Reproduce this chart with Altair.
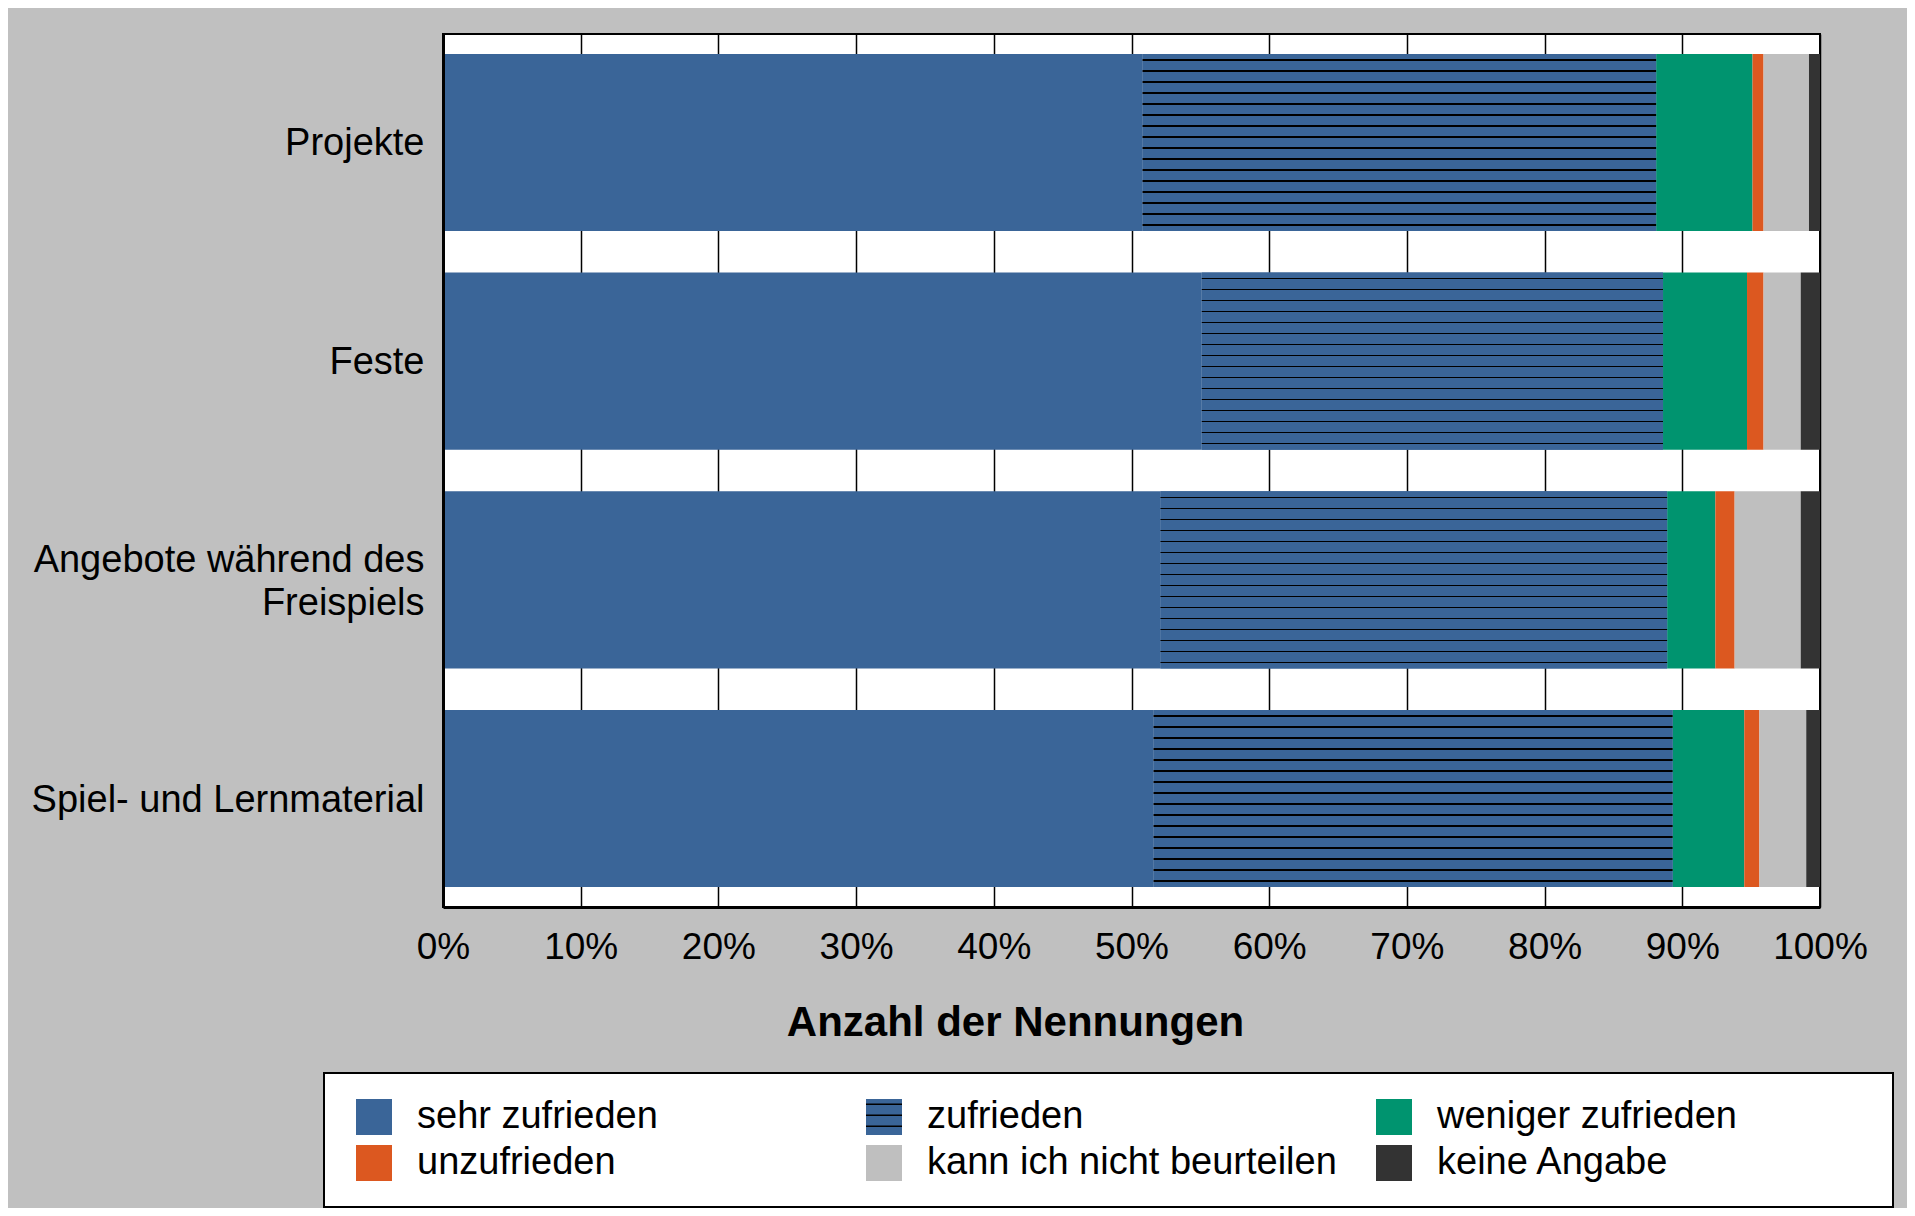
import altair as alt
import pandas as pd

# ---------------- data ----------------
items = [
    "Projekte",
    "Feste",
    "Angebote während des Freispiels",
    "Spiel- und Lernmaterial",
]
categories = [
    "sehr zufrieden",
    "zufrieden",
    "weniger zufrieden",
    "unzufrieden",
    "kann ich nicht beurteilen",
    "keine Angabe",
]
sehr_zufrieden = [50.8, 55.1, 52.1, 51.6]
zufrieden = [37.3, 33.5, 36.8, 37.7]
weniger_zufrieden = [7.0, 6.1, 3.5, 5.2]
unzufrieden = [0.8, 1.2, 1.4, 1.1]
kann_nicht = [3.3, 2.7, 4.8, 3.4]
keine_angabe = [0.8, 1.4, 1.4, 1.0]
x_ticks = [0, 10, 20, 30, 40, 50, 60, 70, 80, 90, 100]

# ---------------- styles ----------------
BLUE = "#3A6598"
colors = [BLUE, BLUE, "#00946F", "#DC5820", "#BFBFBF", "#333333"]
FONT = "Liberation Sans"
TWO_LINE = "Angebote während des Freispiels"

series = [sehr_zufrieden, zufrieden, weniger_zufrieden, unzufrieden, kann_nicht, keine_angabe]
rows = []
for ci, (cat, vals) in enumerate(zip(categories, series)):
    for item, v in zip(items, vals):
        rows.append({"item": item, "category": cat, "key": cat + "#", "order": ci, "value": v})
df = pd.DataFrame(rows)


def stripes(height, first, step, n, half=0.7, base=BLUE, line="#000000"):
    stops = [{"offset": 0, "color": base}]
    for k in range(n):
        c = first + step * k
        a = (c - half) / height
        b = (c + half) / height
        stops += [
            {"offset": a, "color": base},
            {"offset": a, "color": line},
            {"offset": b, "color": line},
            {"offset": b, "color": base},
        ]
    stops.append({"offset": 1, "color": base})
    return {"gradient": "linear", "x1": 0, "y1": 0, "x2": 0, "y2": 1, "stops": stops}


bar_grad = stripes(177.0, 6.0, 11.0, 16)

# hatch overlay for the "zufrieden" legend symbol (3 horizontal lines in a [-1,1] box)
hatch_path = "M-1,-0.706H1M-1,-0.094H1M-1,0.517H1"
empty_path = "M0,0"
hatch_shapes = [hatch_path if c == "zufrieden" else empty_path for c in categories]

y_enc = alt.Y(
    "item:N",
    sort=items,
    scale=alt.Scale(paddingInner=0.19, paddingOuter=0.091),
    axis=alt.Axis(
        title=None,
        labelFontSize=38,
        labelFont=FONT,
        labelColor="black",
        labelPadding=19,
        labelLimit=700,
        labelLineHeight=43,
        labelOffset={"condition": {"test": f"datum.value == '{TWO_LINE}'", "value": -19}, "value": 2},
        ticks=False,
        domainColor="black",
        domainWidth=3,
        grid=False,
        zindex=1,
        labelExpr=f"datum.value == '{TWO_LINE}' ? ['Angebote während des', 'Freispiels'] : datum.label",
    ),
)

x_enc = alt.X(
    "x0:Q",
    scale=alt.Scale(domain=[0, 100], nice=False, zero=True),
    axis=alt.Axis(
        values=x_ticks,
        labelExpr="datum.value + '%'",
        labelFontSize=37,
        labelFont=FONT,
        labelColor="black",
        labelPadding=22,
        labelFlush=False,
        labelOverlap=False,
        ticks=False,
        domainColor="black",
        domainWidth=3,
        grid=True,
        gridColor="black",
        gridWidth=1.5,
        gridOpacity=1,
        title="Anzahl der Nennungen",
        titleFont=FONT,
        titleFontSize=42,
        titleFontWeight="bold",
        titleColor="black",
        titleX=572,
        titleY=128,
        titleAlign="center",
        titleBaseline="alphabetic",
    ),
)

legend_common = dict(
    orient="none",
    legendX=-119,
    legendY=1039,
    direction="horizontal",
    columns=3,
    gridAlign="all",
    symbolSize=1296,
    symbolOffset=6,
    symbolOpacity=1,
    labelFontSize=38,
    labelFont=FONT,
    labelOffset=24,
    labelLimit=700,
    columnPadding=32,
    rowPadding=8,
    padding=25,
    title=" ",
    titleOrient="right",
    titleFontSize=1,
    titlePadding=131,
    titleColor="white",
)

legend_main = alt.Legend(
    symbolType="square",
    symbolStrokeWidth=0,
    labelColor="black",
    fillColor="white",
    strokeColor="black",
    zindex=0,
    **legend_common,
)

legend_hatch = alt.Legend(
    symbolStrokeColor="black",
    symbolFillColor="transparent",
    symbolStrokeWidth=1.4,
    labelColor="black",
    labelOpacity=0,
    labelExpr="replace(datum.label, '#', '')",
    fillColor="transparent",
    strokeColor="transparent",
    zindex=2,
    **legend_common,
)

base = alt.Chart(df).transform_stack(
    stack="value",
    groupby=["item"],
    as_=["x0", "x1"],
    sort=[alt.SortField("order", order="ascending")],
)

bars = base.mark_bar(strokeWidth=0).encode(
    y=y_enc,
    x=x_enc,
    x2="x1:Q",
    color=alt.Color(
        "category:N",
        sort=categories,
        scale=alt.Scale(domain=categories, range=colors),
        legend=legend_main,
    ),
)

hatch = (
    base.transform_filter(alt.datum.category == "zufrieden")
    .mark_bar(strokeWidth=0, fill=bar_grad)
    .encode(y=alt.Y("item:N", sort=items), x=alt.X("x0:Q"), x2="x1:Q")
)

legend_overlay = (
    base.transform_filter("false")
    .mark_point(color="black", filled=False, strokeWidth=1.4)
    .encode(
        y=alt.Y("item:N", sort=items),
        x=alt.X("x0:Q"),
        shape=alt.Shape(
            "key:N",
            scale=alt.Scale(domain=[c + "#" for c in categories], range=hatch_shapes),
            legend=legend_hatch,
        ),
    )
)

chart = (
    alt.layer(bars, hatch, legend_overlay)
    .properties(
        width=1377,
        height=873,
        padding={"left": 435, "top": 26, "right": 87, "bottom": 301},
        autosize=alt.AutoSizeParams(type="none"),
        background="#C0C0C0",
    )
    .configure(font=FONT)
    .configure_view(fill="white", stroke="black", strokeWidth=2)
    .configure_legend(strokeWidth=2)
)

chart.save("out.html", embed_options={"renderer": "svg", "actions": False})
